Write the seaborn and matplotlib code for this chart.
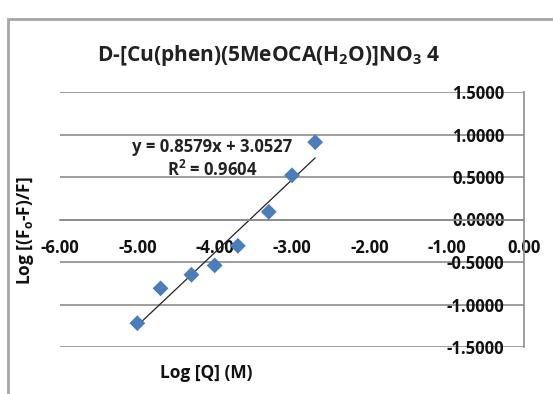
import numpy as np
import pandas as pd
import matplotlib
matplotlib.use('Agg')
import matplotlib.pyplot as plt
from matplotlib.patches import Rectangle
import seaborn as sns

# data
log_q = [-5.00, -4.70, -4.30, -4.00, -3.70, -3.30, -3.00, -2.70]
log_f = [-1.22, -0.81, -0.65, -0.54, -0.31, 0.09, 0.52, 0.91]
x_ticks = [-6, -5, -4, -3, -2, -1, 0]
y_ticks = [-1.5, -1.0, -0.5, 0.0, 0.5, 1.0, 1.5]
eq_text = 'y = 0.8579x + 3.0527'
r2_text = 'R$^2$ = 0.9604'
title = 'D-[Cu(phen)(5MeOCA(H$_2$O)]NO$_3$ 4'

fam = 'Open Sans'

df = pd.DataFrame({'logq': log_q, 'logf': log_f})

sns.set_style('white')
plt.rcParams['font.family'] = [fam, 'DejaVu Sans']
plt.rcParams['font.weight'] = 'bold'
plt.rcParams['mathtext.fontset'] = 'custom'
plt.rcParams['mathtext.rm'] = f'{fam}:bold'
plt.rcParams['mathtext.bf'] = f'{fam}:bold'
plt.rcParams['mathtext.it'] = f'{fam}:bold'
plt.rcParams['mathtext.default'] = 'bf'

fig = plt.figure(figsize=(5.53, 3.94), dpi=100)
ax = fig.add_axes([60 / 553, 47 / 394, 464 / 553, 255 / 394])

grid_c = '#8c8c8c'
for yv in y_ticks:
    ax.axhline(yv, color=grid_c, lw=1.2, zorder=0)

sns.regplot(data=df, x='logq', y='logf', ci=None, scatter=False, ax=ax,
            line_kws={'color': '#222222', 'lw': 0.9, 'zorder': 2})
sns.scatterplot(data=df, x='logq', y='logf', marker='D', s=65, color='#4a7ebb',
                edgecolor='none', ax=ax, zorder=3)

ax.set_xlim(-6, 0)
ax.set_ylim(-1.5, 1.5)
ax.set_xticks(x_ticks)
ax.set_xticklabels([f'{v:.2f}' for v in x_ticks])
ax.set_yticks(y_ticks)
ax.set_yticklabels([f'{v:.4f}' for v in y_ticks])

ax.spines['bottom'].set_position(('data', 0))
ax.spines['left'].set_position(('data', 0))
ax.spines['top'].set_visible(False)
ax.spines['right'].set_visible(False)
for s in ['bottom', 'left']:
    ax.spines[s].set_color(grid_c)
    ax.spines[s].set_linewidth(1.2)

ax.tick_params(axis='x', direction='out', length=6, width=1.2, color=grid_c,
               pad=8, labelsize=12, labelcolor='#111111')
ax.tick_params(axis='y', length=0, pad=14, labelsize=12, labelcolor='#111111')
for lab in ax.get_xticklabels() + ax.get_yticklabels():
    lab.set_fontweight('bold')

ax.set_xlabel('')
ax.set_ylabel('')
ax.text(-4.03, 0.85, eq_text, ha='center', va='center', fontsize=12,
        fontweight='bold', color='#222222')
ax.text(-4.03, 0.58, r2_text, ha='center', va='center', fontsize=12,
        fontweight='bold', color='#222222')

fig.text(269 / 553, 1 - 55 / 394, title, ha='center', va='center',
         fontsize=15, fontweight='bold', color='#222222')
fig.text(206 / 553, 1 - 373 / 394, 'Log [Q] (M)', ha='center', va='center',
         fontsize=12.5, fontweight='bold', color='#111111')
fig.text(25 / 553, 1 - 231 / 394, 'Log [(F$_o$-F)/F]', ha='center', va='center',
         rotation=90, fontsize=12.5, fontweight='bold', color='#111111')

# outer chart frame, cut off at the right and bottom like the reference
fig.patches.append(Rectangle((8 / 553, -0.1), 1.2, 1 - 19 / 394 + 0.1,
                             transform=fig.transFigure, fill=False,
                             edgecolor='#a6a6a6', lw=2))

fig.savefig('out.png', dpi=100)
